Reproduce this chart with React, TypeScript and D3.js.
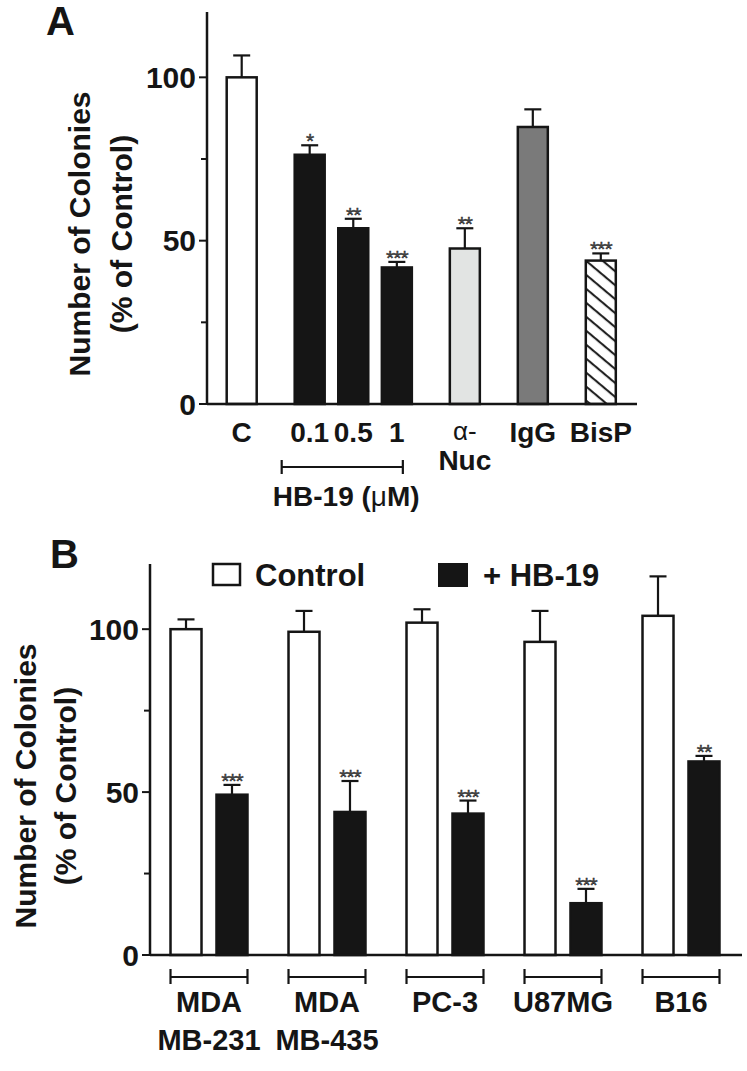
import * as d3 from 'd3';

// Panel A – treatments
const catsA = ['C', '0.1', '0.5', '1', 'α-Nuc', 'IgG', 'BisP'];
const valsA = [100, 76.3, 53.8, 41.8, 47.6, 84.8, 43.9];
const errA = [6.7, 2.9, 2.9, 1.7, 6.2, 5.4, 2.2];
const starsA = ['', '*', '**', '***', '**', '', '***'];
const groupA = [0, 1, 1, 1, 2, 3, 4];
const fillA = ['#ffffff', '#151515', '#151515', '#151515', '#e2e4e3', '#7a7a7a', 'url(#hatch)'];

// Panel B – cell lines
const cellLines = [['MDA', 'MB-231'], ['MDA', 'MB-435'], ['PC-3'], ['U87MG'], ['B16']];
const seriesB = ['Control', '+ HB-19'];
const controlB = [100, 99.2, 102, 96.1, 104.1];
const controlErrB = [3, 6.4, 4.1, 9.5, 12.1];
const hbB = [49.2, 43.9, 43.4, 15.9, 59.4];
const hbErrB = [3, 9.5, 4, 4.4, 1.7];
const starsB = ['***', '***', '***', '***', '**'];

const ticks = [0, 25, 50, 75, 100];
const tickLabels = [0, 50, 100];

const FONT = '"Liberation Sans", Arial, Helvetica, sans-serif';
const INK = '#151515';

function YAxis({ y, x, top }: { y: d3.ScaleLinear<number, number>; x: number; top: number }) {
  return (
    <g>
      <line x1={x} x2={x} y1={top} y2={y(0)} stroke={INK} strokeWidth={2.5} />
      {ticks.map(t => (
        <line key={t} x1={x - (tickLabels.includes(t) ? 8 : 6)} x2={x} y1={y(t)} y2={y(t)} stroke={INK} strokeWidth={2} />
      ))}
      {tickLabels.map(t => (
        <text key={t} x={x - 11} y={y(t)} dy="0.36em" textAnchor="end" fontSize={30} fontWeight="bold" fill={INK}>
          {t}
        </text>
      ))}
    </g>
  );
}

function YTitle({ x1, x2, cy }: { x1: number; x2: number; cy: number }) {
  return (
    <g fontSize={30} fontWeight="bold" fill={INK} textAnchor="middle">
      <text transform={`translate(${x1},${cy}) rotate(-90)`}>Number of Colonies</text>
      <text transform={`translate(${x2},${cy}) rotate(-90)`}>(% of Control)</text>
    </g>
  );
}

function Bar({ cx, w, y, v, e, fill, stars }: any) {
  const y0 = y(0);
  const yt = y(v);
  const ye = y(v + e);
  return (
    <g>
      <line x1={cx} x2={cx} y1={yt} y2={ye} stroke={INK} strokeWidth={2.2} />
      <line x1={cx - 8.5} x2={cx + 8.5} y1={ye} y2={ye} stroke={INK} strokeWidth={2.2} />
      <rect x={cx - w / 2} y={yt} width={w} height={y0 - yt} fill={fill} stroke={INK} strokeWidth={2.5} />
      {stars && (
        <text x={cx} y={ye + 3} textAnchor="middle" fontSize={21} fill="#4a4a4a" stroke="#222" strokeWidth={0.4} letterSpacing={-1}>
          {stars}
        </text>
      )}
    </g>
  );
}

export default function App() {
  // ---------- Panel A ----------
  const axisA = 207;
  const yA = d3.scaleLinear().domain([0, 120]).range([404, 12]);
  const posA = catsA.map((_, i) => i + groupA[i] * 0.56);
  const xA = d3.scaleLinear().domain([0, posA[posA.length - 1]]).range([241.7, 600.8]);
  const bwA = 30;
  const cxA = posA.map(p => xA(p));
  const bracketL = cxA[1] - bwA / 2 - 13;
  const bracketR = cxA[3] + bwA / 2 - 9;

  // ---------- Panel B ----------
  const axisB = 150;
  const yB = d3.scaleLinear().domain([0, 120]).range([955, 564]);
  const xB = d3.scaleBand<number>().domain(cellLines.map((_, i) => i)).range([axisB, 740]);
  const xInner = d3.scaleBand<string>().domain(seriesB).range([0, xB.bandwidth()]).paddingInner(0.326).paddingOuter(0.446);
  const bwB = xInner.bandwidth();

  return (
    <svg width={747} height={1071} style={{ position: 'absolute', left: 0, top: 0, background: '#fff' }} fontFamily={FONT}>
      <defs>
        <pattern id="hatch" patternUnits="userSpaceOnUse" width={10.7} height={10.7} patternTransform="rotate(40)">
          <rect width={10.7} height={10.7} fill="#fff" />
          <line x1={0} x2={10.7} y1={5} y2={5} stroke={INK} strokeWidth={2} />
        </pattern>
      </defs>

      {/* Panel A */}
      <text x={46} y={35} fontSize={40} fontWeight="bold" fill={INK}>A</text>
      <YTitle x1={90} x2={132} cy={234} />
      <YAxis y={yA} x={axisA} top={12} />
      {catsA.map((c, i) => (
        <Bar key={c} cx={cxA[i]} w={bwA} y={yA} v={valsA[i]} e={errA[i]} fill={fillA[i]} stars={starsA[i]} />
      ))}
      <line x1={axisA} x2={637} y1={yA(0)} y2={yA(0)} stroke={INK} strokeWidth={2.5} />
      <g fontSize={28} fontWeight="bold" fill={INK} textAnchor="middle">
        {catsA.map((c, i) =>
          c === 'α-Nuc' ? (
            <g key={c}>
              <text x={cxA[i]} y={440} fontWeight="normal" fontSize={26}>α-</text>
              <text x={cxA[i]} y={470}>Nuc</text>
            </g>
          ) : (
            <text key={c} x={cxA[i]} y={442}>{c}</text>
          )
        )}
        <text x={(bracketL + bracketR) / 2 + 4} y={506}>
          HB-19 (<tspan fontWeight="normal">μ</tspan>M)
        </text>
      </g>
      <g stroke={INK} strokeWidth={2.2}>
        <line x1={bracketL} x2={bracketR} y1={467} y2={467} />
        <line x1={bracketL} x2={bracketL} y1={460} y2={474} />
        <line x1={bracketR} x2={bracketR} y1={460} y2={474} />
      </g>

      {/* Panel B */}
      <text x={50} y={568} fontSize={40} fontWeight="bold" fill={INK}>B</text>
      <YTitle x1={36} x2={76} cy={786} />
      <YAxis y={yB} x={axisB} top={564} />
      {cellLines.map((lines, i) => {
        const x0 = xB(i)!;
        const cc = x0 + xInner('Control')! + bwB / 2;
        const ch = x0 + xInner('+ HB-19')! + bwB / 2;
        const bl = cc - bwB / 2;
        const br = ch + bwB / 2;
        const mid = (bl + br) / 2;
        return (
          <g key={i}>
            <Bar cx={cc} w={bwB} y={yB} v={controlB[i]} e={controlErrB[i]} fill="#fff" stars="" />
            <Bar cx={ch} w={bwB} y={yB} v={hbB[i]} e={hbErrB[i]} fill={INK} stars={starsB[i]} />
            <g stroke={INK} strokeWidth={2.2}>
              <line x1={bl} x2={br} y1={977} y2={977} />
              <line x1={bl} x2={bl} y1={969} y2={984} />
              <line x1={br} x2={br} y1={969} y2={984} />
            </g>
            {lines.map((t, k) => (
              <text key={t} x={mid} y={1012 + k * 38} textAnchor="middle" fontSize={29} fontWeight="bold" fill={INK}>
                {t}
              </text>
            ))}
          </g>
        );
      })}
      <line x1={axisB} x2={742} y1={yB(0)} y2={yB(0)} stroke={INK} strokeWidth={2.5} />

      {/* Legend */}
      <rect x={213} y={564} width={27} height={21} fill="#fff" stroke={INK} strokeWidth={2.5} />
      <text x={255} y={586} fontSize={31} fontWeight="bold" fill={INK}>{seriesB[0]}</text>
      <rect x={439} y={564} width={28} height={22} fill={INK} stroke={INK} strokeWidth={2} />
      <text x={483} y={586} fontSize={31} fontWeight="bold" fill={INK}>{seriesB[1]}</text>
    </svg>
  );
}
